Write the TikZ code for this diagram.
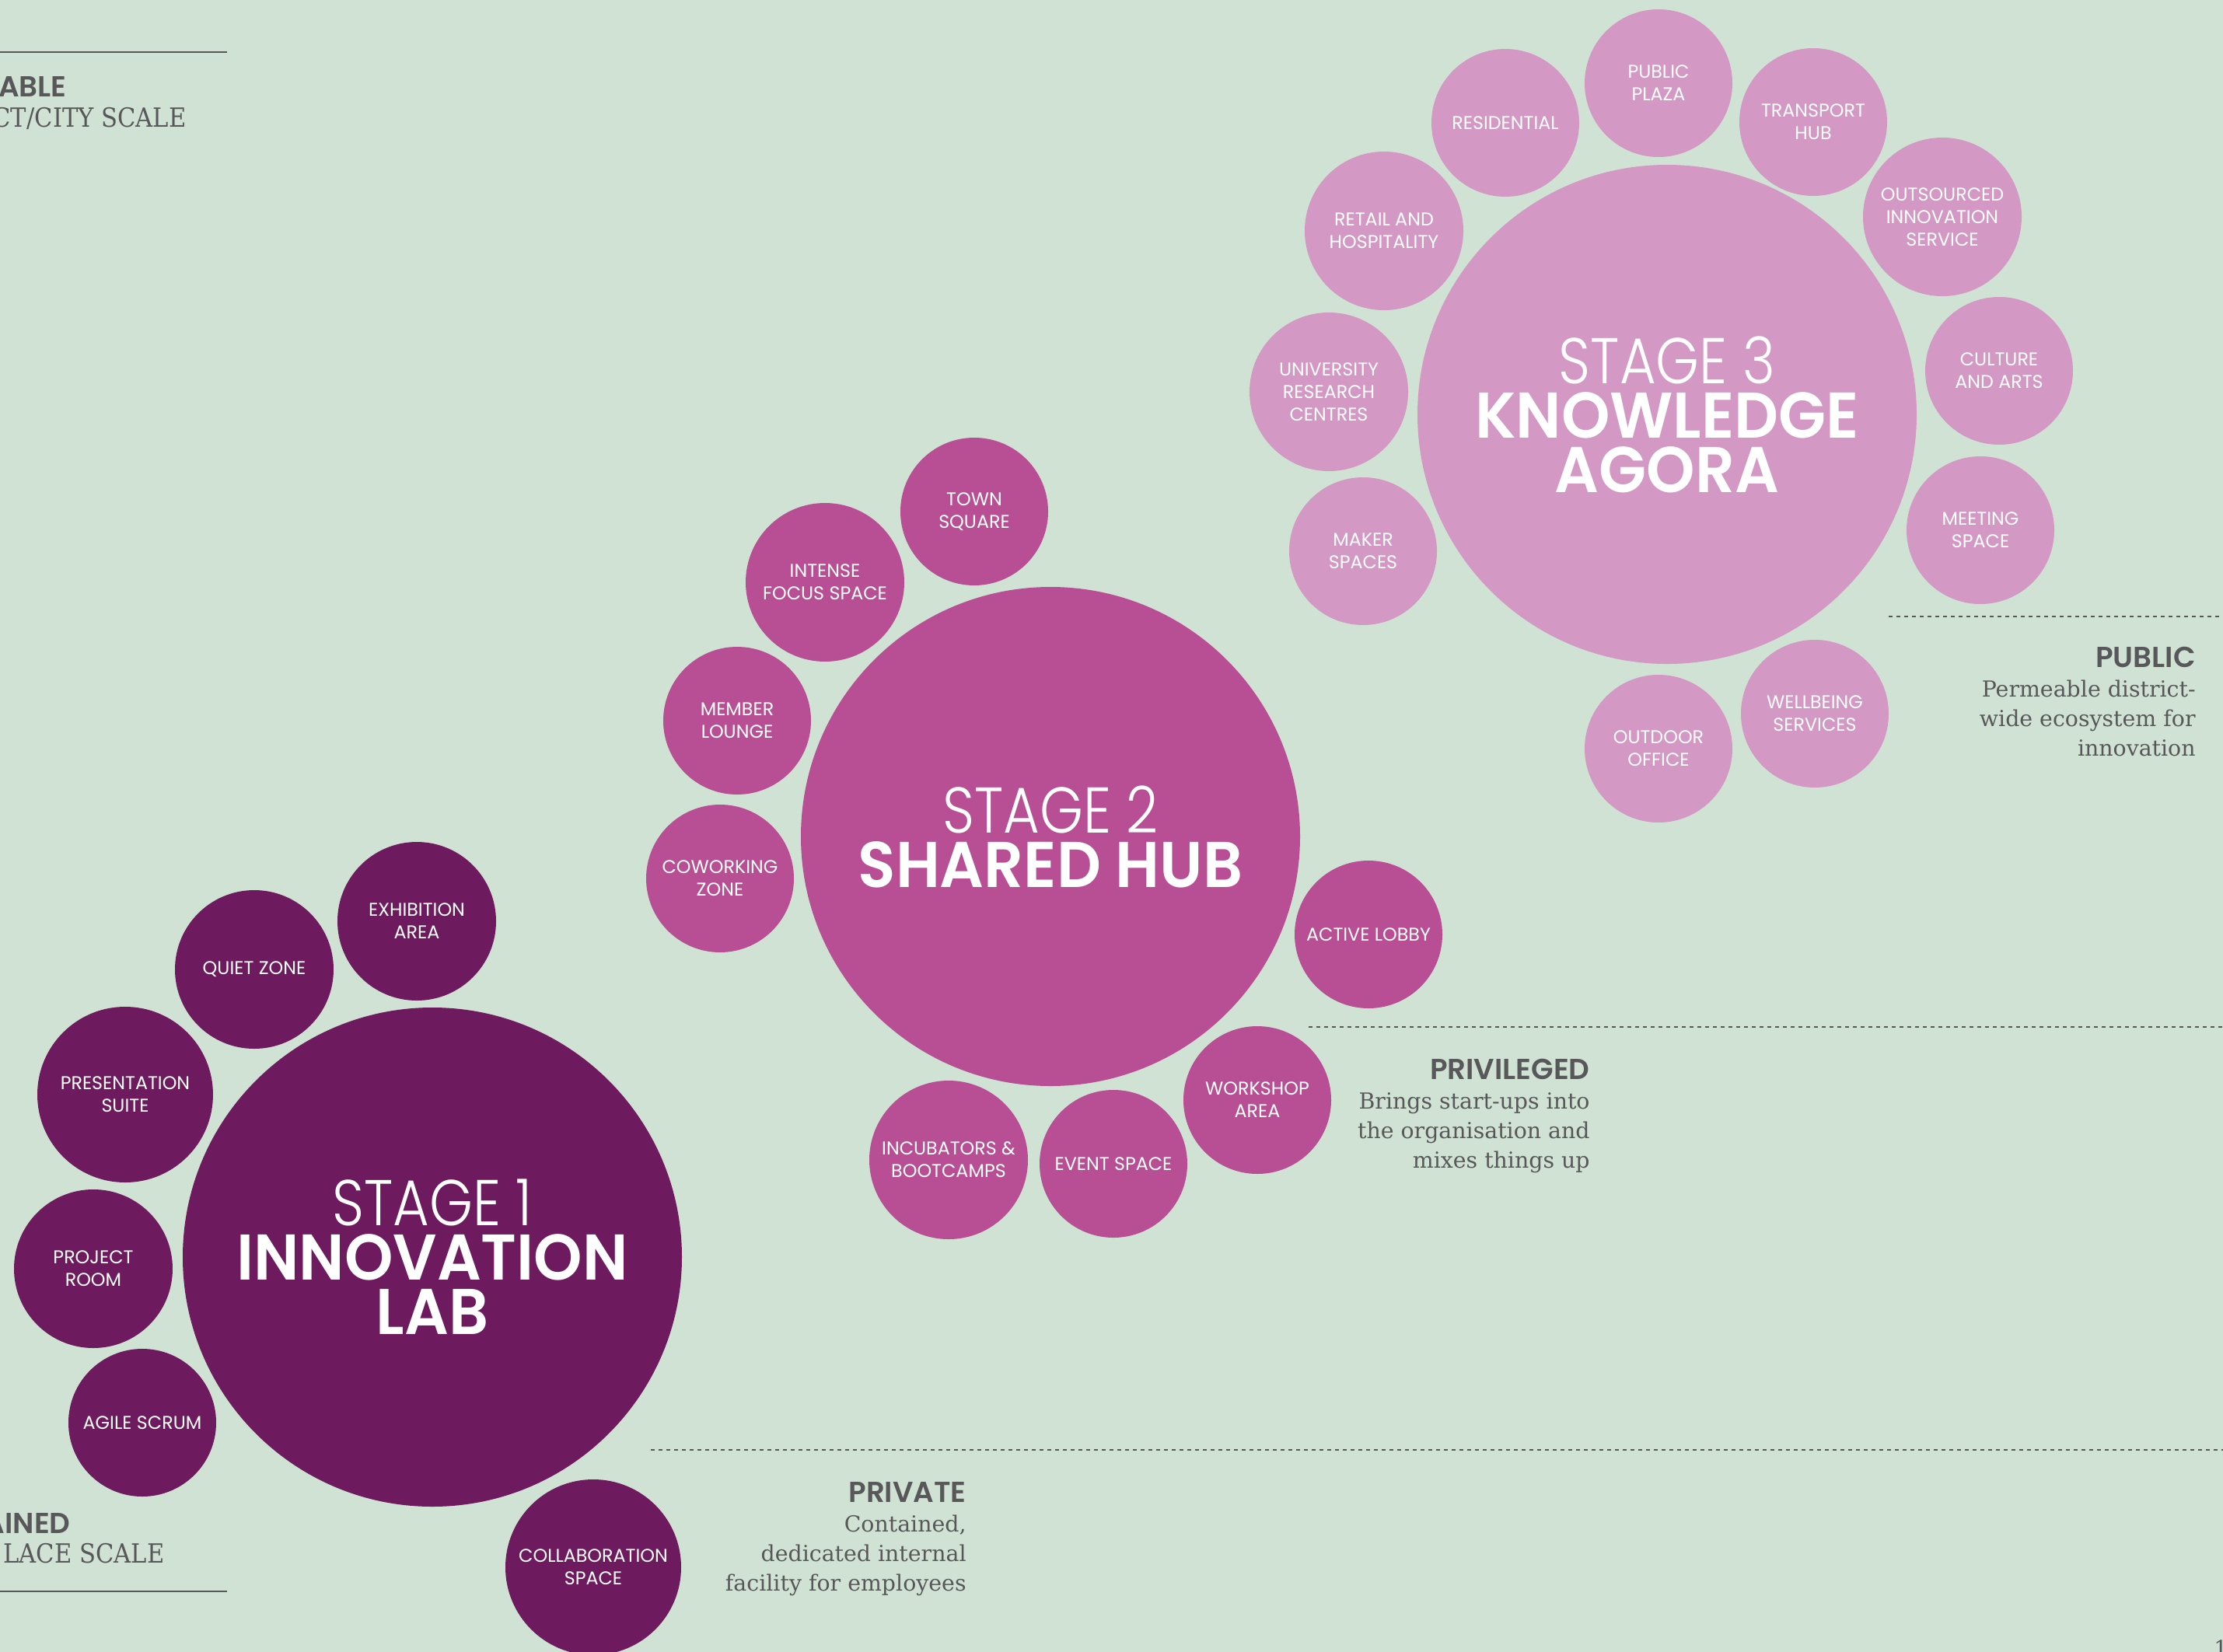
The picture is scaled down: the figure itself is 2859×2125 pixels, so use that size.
\documentclass[tikz,border=0pt]{standalone}
\usepackage{fontspec}
\usepackage{xcolor}
\setmainfont{DejaVu Serif}
\newfontfamily\slabfont{DejaVu Serif}[FakeStretch=0.9]
\newfontfamily\roomfont{Poppins}
\IfFontExistsTF{Poppins Light}{\newfontfamily\lightfont{Poppins Light}[FakeStretch=0.86]}{\newfontfamily\lightfont{Poppins}[FakeStretch=0.86]}
\IfFontExistsTF{Poppins SemiBold}{%
  \newfontfamily\heavyfont{Poppins SemiBold}%
  \newfontfamily\titlefont{Poppins SemiBold}[FakeStretch=0.955]}{%
  \newfontfamily\heavyfont{Poppins}[UprightFont=*-Bold]%
  \newfontfamily\titlefont{Poppins}[UprightFont=*-Bold,FakeStretch=0.955]}
\usetikzlibrary{positioning}

\definecolor{sage}{HTML}{D0E2D3}
\definecolor{labpurple}{HTML}{6D1B5E}
\definecolor{hubpink}{HTML}{B84F94}
\definecolor{agoralilac}{HTML}{D398C3}
\definecolor{ink}{HTML}{58585A}

\tikzset{
  stage/.style={circle, fill=#1, inner sep=0pt, minimum size=321pt, text=white, align=center,
    font=\titlefont\fontsize{41.6}{35}\selectfont},
  room/.style={circle, fill=#1, inner sep=0pt, minimum size=95pt, text=white, align=center,
    font=\roomfont\fontsize{11.9}{14.5}\selectfont},
  big room/.style={room=#1, minimum size=102pt},
  wide room/.style={room=#1, minimum size=113pt},
  rule/.style={draw=ink, line width=1pt},
  zone/.style={draw=ink, line width=0.7pt, dash pattern=on 2.5pt off 2.5pt},
  note/.style={anchor=north east, inner sep=0pt, align=right, text=ink,
    font=\fontsize{14.2}{19}\selectfont},
  edge label/.style={anchor=base east, inner sep=0pt, text=ink}
}
\newcommand{\stagetitle}[2]{{\lightfont #1}\\#2}
\newcommand{\headline}[1]{{\heavyfont\fontsize{18.6}{19}\selectfont #1}}

\begin{document}
\begin{tikzpicture}[x=0.5pt,y=-0.5pt]
\useasboundingbox (0,0) rectangle (2859,2125);
\clip (0,0) rectangle (2859,2125);
\fill[sage] (0,0) rectangle (2859,2125);

% scale rules at the left edge
\draw[rule] (0,67) -- (292,67);
\node[edge label, font=\heavyfont\fontsize{18.6}{20}\selectfont] (scalable) at (86,125) {ABLE};
\node[edge label, font=\slabfont\fontsize{17}{20}\selectfont] (cityscale) at (240,163) {CT/CITY SCALE};
\node[edge label, font=\heavyfont\fontsize{18.6}{20}\selectfont] (contained) at (91,1972) {AINED};
\node[edge label, font=\slabfont\fontsize{17}{20}\selectfont] (placescale) at (212,2010) {LACE SCALE};
\draw[rule] (0,2047) -- (292,2047);

% zone boundaries
\draw[zone] (2429,793) -- (2859,793);
\draw[zone] (1683,1321) -- (2859,1321);
\draw[zone] (837,1865) -- (2859,1865);

% stage 1
\node[stage=labpurple] (lab) at (556,1617) {\stagetitle{STAGE 1}{INNOVATION\\LAB}};
\node[big room=labpurple] (exhibition) at (536,1185) {EXHIBITION\\AREA};
\node[big room=labpurple] (quiet) at (327,1247) {QUIET ZONE};
\node[wide room=labpurple] (presentation) at (161,1408) {PRESENTATION\\SUITE};
\node[big room=labpurple] (project) at (120,1632) {PROJECT\\ROOM};
\node[room=labpurple] (scrum) at (183,1830) {AGILE SCRUM};
\node[wide room=labpurple] (collab) at (763,2016) {COLLABORATION\\SPACE};

% stage 2
\node[stage=hubpink] (hub) at (1351,1076) {\stagetitle{STAGE 2}{SHARED HUB}};
\node[room=hubpink] (town) at (1253,658) {TOWN\\SQUARE};
\node[big room=hubpink] (focus) at (1061,749) {INTENSE\\FOCUS SPACE};
\node[room=hubpink] (lounge) at (948,927) {MEMBER\\LOUNGE};
\node[room=hubpink] (cowork) at (926,1130) {COWORKING\\ZONE};
\node[room=hubpink] (lobby) at (1760,1202) {ACTIVE LOBBY};
\node[room=hubpink] (workshop) at (1617,1415) {WORKSHOP\\AREA};
\node[room=hubpink] (event) at (1432,1497) {EVENT SPACE};
\node[big room=hubpink] (incubator) at (1220,1492) {INCUBATORS \&\\BOOTCAMPS};

% stage 3
\node[stage=agoralilac] (agora) at (2144,533) {\stagetitle{STAGE 3}{KNOWLEDGE\\AGORA}};
\node[room=agoralilac] (residential) at (1936,158) {RESIDENTIAL};
\node[room=agoralilac] (plaza) at (2133,107) {PUBLIC\\PLAZA};
\node[room=agoralilac] (transport) at (2332,157) {TRANSPORT\\HUB};
\node[big room=agoralilac] (outsourced) at (2498,279) {OUTSOURCED\\INNOVATION\\SERVICE};
\node[room=agoralilac] (culture) at (2571,477) {CULTURE\\AND ARTS};
\node[room=agoralilac] (meeting) at (2547,682) {MEETING\\SPACE};
\node[room=agoralilac] (wellbeing) at (2334,918) {WELLBEING\\SERVICES};
\node[room=agoralilac] (outdoor) at (2133,963) {OUTDOOR\\OFFICE};
\node[room=agoralilac] (maker) at (1753,709) {MAKER\\SPACES};
\node[big room=agoralilac] (university) at (1709,504) {UNIVERSITY\\RESEARCH\\CENTRES};
\node[big room=agoralilac] (retail) at (1780,297) {RETAIL AND\\HOSPITALITY};

% zone notes
\node[note] (public) at (2824,832) {\headline{PUBLIC}\\Permeable district-\\wide ecosystem for\\innovation};
\node[note] (privileged) at (2045,1362) {\headline{PRIVILEGED}\\Brings start-ups into\\the organisation and\\mixes things up};
\node[note] (private) at (1243,1906) {\headline{PRIVATE}\\Contained,\\dedicated internal\\facility for employees};

\node[anchor=north west, inner sep=0pt, text=ink, font=\fontsize{14}{16}\selectfont] (pageno) at (2847,2109) {1};
\end{tikzpicture}
\end{document}
